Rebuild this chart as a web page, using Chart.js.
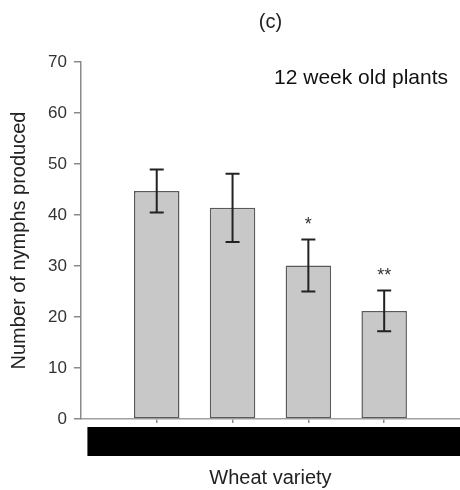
<!DOCTYPE html>
<html>
<head>
<meta charset="utf-8">
<script src="https://cdn.jsdelivr.net/npm/chart.js@4"></script>
<style>
  html, body { margin: 0; padding: 0; background: #ffffff; }
  #wrap { width: 460px; height: 490px; position: relative; }
</style>
</head>
<body>
<div id="wrap"><canvas id="c" width="460" height="490"></canvas></div>
<script>
// ---- data ----
const categories = ['Variety 1', 'Variety 2', 'Variety 3', 'Variety 4'];
const categoryPositions = [1, 2, 3, 4];
const meanNymphs = [44.7, 41.4, 30.1, 21.2];
const errorNymphs = [4.2, 6.7, 5.1, 4.0];
const significance = ['', '', '*', '**'];
const yMin = 0, yMax = 70, yStep = 10;
const xMin = 0, xMax = 5;
const panelTitle = '(c)';
const panelNote = '12 week old plants';
const xTitle = 'Wheat variety';
const yTitle = 'Number of nymphs produced';

const FONT = "'Liberation Sans', Arial, sans-serif";

const errorBarPlugin = {
  id: 'errorBars',
  afterDatasetsDraw(chart) {
    const ctx = chart.ctx;
    const xs = chart.scales.x, ys = chart.scales.y;
    ctx.save();
    ctx.strokeStyle = '#222222';
    ctx.lineWidth = 2;
    categoryPositions.forEach((p, i) => {
      const x = xs.getPixelForValue(p);
      const yT = ys.getPixelForValue(meanNymphs[i] + errorNymphs[i]);
      const yB = ys.getPixelForValue(meanNymphs[i] - errorNymphs[i]);
      const cap = 7;
      ctx.beginPath();
      ctx.moveTo(x, yT); ctx.lineTo(x, yB);
      ctx.moveTo(x - cap, yT); ctx.lineTo(x + cap, yT);
      ctx.moveTo(x - cap, yB); ctx.lineTo(x + cap, yB);
      ctx.stroke();
      if (significance[i]) {
        ctx.fillStyle = '#333333';
        ctx.font = '18px ' + FONT;
        ctx.textAlign = 'center';
        ctx.textBaseline = 'alphabetic';
        ctx.fillText(significance[i], x, yT - 9);
      }
    });
    ctx.restore();
  },
  afterDraw(chart) {
    const ctx = chart.ctx;
    const ca = chart.chartArea;
    const xs = chart.scales.x;
    ctx.save();
    // redacted tick-label band
    ctx.fillStyle = '#000000';
    ctx.fillRect(ca.left + 6.5, xs.top + 8, chart.width - (ca.left + 6.5), 29);
    // panel note
    ctx.fillStyle = '#111111';
    ctx.font = '21px ' + FONT;
    ctx.textAlign = 'right';
    ctx.textBaseline = 'middle';
    ctx.fillText(panelNote, ca.right - 12, ca.top + 16);
    ctx.restore();
  }
};

new Chart(document.getElementById('c'), {
  type: 'bar',
  data: {
    labels: categories,
    datasets: [{
      data: categoryPositions.map((p, i) => ({ x: p, y: meanNymphs[i] })),
      backgroundColor: '#c8c8c8',
      borderColor: '#5a5a5a',
      borderWidth: 1.5,
      borderSkipped: false,
      categoryPercentage: 0.8,
      barPercentage: 0.75
    }]
  },
  options: {
    responsive: false,
    animation: false,
    devicePixelRatio: 1,
    layout: { padding: { top: 0, right: 0, bottom: 0, left: 0 } },
    plugins: {
      legend: { display: false },
      tooltip: { enabled: false },
      title: {
        display: true,
        text: panelTitle,
        fullSize: false,
        color: '#222222',
        font: { family: FONT, size: 20, weight: 'normal' },
        padding: { top: 10, bottom: 28 }
      }
    },
    scales: {
      x: {
        type: 'linear',
        min: xMin,
        max: xMax,
        offset: false,
        afterBuildTicks(scale) {
          scale.ticks = categoryPositions.map(v => ({ value: v }));
        },
        ticks: { display: false },
        grid: {
          offset: false,
          drawOnChartArea: false,
          drawTicks: true,
          tickLength: 4,
          color: '#8a8a8a',
          lineWidth: 1.5
        },
        border: { display: true, color: '#a0a0a0', width: 1.5 },
        title: {
          display: true,
          text: xTitle,
          color: '#222222',
          font: { family: FONT, size: 20 },
          padding: { top: 43, bottom: 0 }
        }
      },
      y: {
        min: yMin,
        max: yMax,
        ticks: {
          stepSize: yStep,
          color: '#333333',
          font: { family: FONT, size: 17 },
          padding: 7
        },
        grid: {
          drawOnChartArea: false,
          drawTicks: true,
          tickLength: 7,
          color: '#8a8a8a',
          lineWidth: 1.5
        },
        border: { display: true, color: '#8a8a8a', width: 1.5 },
        title: {
          display: true,
          text: yTitle,
          color: '#222222',
          font: { family: FONT, size: 20 },
          padding: { top: 7, bottom: 10 }
        }
      }
    }
  },
  plugins: [errorBarPlugin]
});
</script>
</body>
</html>
